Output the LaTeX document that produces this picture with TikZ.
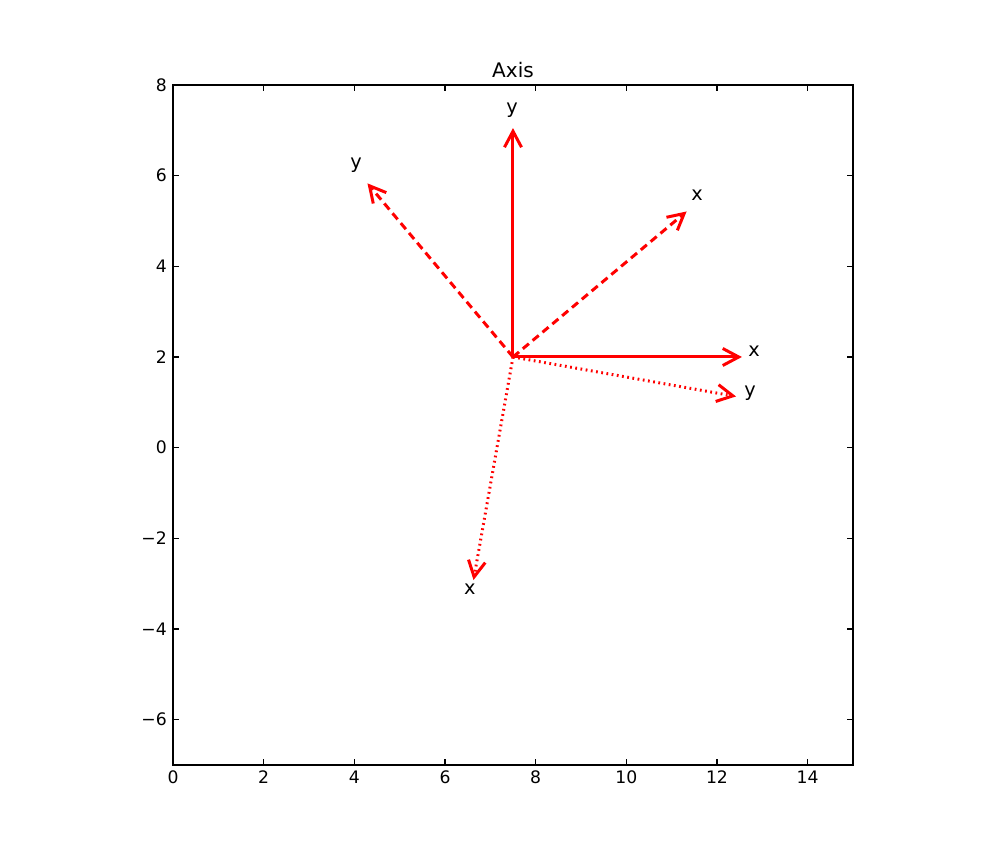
\documentclass[tikz,border=0pt]{standalone}
\usepackage{fontspec}
\setmainfont{DejaVu Sans}
\usetikzlibrary{arrows.meta}

\begin{document}
\begin{tikzpicture}[x=0.9067cm, y=0.9067cm,
    frame/.style={draw=black, line width=0.7pt},
    tick/.style={black, line width=0.6pt},
    ticklabel/.style={inner sep=0pt, font=\fontsize{9.8}{11}\selectfont},
    vec/.style={red, line width=1.7pt, -{Straight Barb[length=0.32cm, width=0.34cm, line width=1.7pt]}},
    dashedvec/.style={vec, dash pattern=on 4.5pt off 2.8pt},
    dottedvec/.style={vec, dash pattern=on 1pt off 2pt},
    lbl/.style={inner sep=0pt, font=\fontsize{11}{13}\selectfont},
  ]
  \useasboundingbox (-3.816,-8.875) rectangle (18.243,9.875);

  % ticks and tick labels
  \foreach \x in {0,2,...,14} {
    \draw[tick] (\x,-7) -- ++(0,0.13);
    \draw[tick] (\x,8) -- ++(0,-0.13);
    \node[ticklabel, anchor=north] at (\x,-7.12) {\x};
  }
  \foreach \y/\t in {-6/−6,-4/−4,-2/−2,0/0,2/2,4/4,6/6,8/8} {
    \draw[tick] (0,\y) -- ++(0.13,0);
    \draw[tick] (15,\y) -- ++(-0.13,0);
    \node[ticklabel, anchor=east] at (-0.13,\y) {\t};
  }

  % frames
  \coordinate (o) at (7.5,2);
  \coordinate (xs) at (12.55,2);
  \coordinate (ys) at (7.5,7.05);
  \coordinate (xd) at (11.33,5.21);
  \coordinate (yd) at (4.29,5.83);
  \coordinate (xp) at (6.63,-2.92);
  \coordinate (yp) at (12.42,1.13);

  \draw[dottedvec] (o) -- (xp);
  \draw[dottedvec] (o) -- (yp);
  \draw[dashedvec] (o) -- (xd);
  \draw[dashedvec] (o) -- (yd);
  \draw[vec] (o) -- (xs);
  \draw[vec] (o) -- (ys);

  \node[lbl] (lxs) at (12.82,2.13) {x};
  \node[lbl] (lys) at (7.48,7.45) {y};
  \node[lbl] (lxd) at (11.56,5.57) {x};
  \node[lbl] (lyd) at (4.04,6.22) {y};
  \node[lbl] (lyp) at (12.73,1.2) {y};
  \node[lbl] (lxp) at (6.55,-3.12) {x};

  \node[font=\fontsize{11.4}{13}\selectfont, inner sep=0pt] (title) at (7.5,8.33) {Axis};

  \draw[frame] (0,-7) rectangle (15,8);
\end{tikzpicture}
\end{document}
